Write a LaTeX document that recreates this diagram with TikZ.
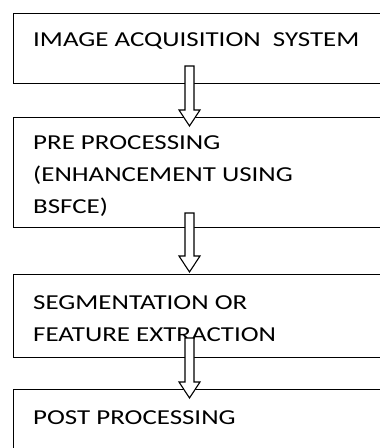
\documentclass[tikz,border=0pt]{standalone}
\usepackage{fontspec}
\setmainfont[FakeStretch=1.265]{Carlito}
\usetikzlibrary{calc}
\tikzset{
  stagebox/.style={draw=black, line width=1.1pt, fill=none, rectangle, inner sep=0pt, anchor=north west, minimum width=400pt},
  stagetext/.style={anchor=base west, inner sep=0pt, font=\fontsize{21.3}{25}\selectfont, text=black},
  fatarrow/.style={draw=black, line width=1.1pt, fill=white, line join=miter}
}
\newcommand{\downfat}[2]{%
  \draw[fatarrow] let \p1=(#1), \p2=(#2) in
    (\x1-4.5pt,\y1) -- (\x1-4.5pt,\y2+16pt) -- (\x1-10.5pt,\y2+16pt) -- (\x2,\y2)
    -- (\x1+10.5pt,\y2+16pt) -- (\x1+4.5pt,\y2+16pt) -- (\x1+4.5pt,\y1) -- cycle;}
\begin{document}
\begin{tikzpicture}[x=1pt,y=-1pt]
\useasboundingbox (0,0) rectangle (380,448);
\clip (0,0) rectangle (380,448);
% boxes
\node[stagebox, minimum height=70pt] (b1) at (13,13) {};
\node[stagebox, minimum height=110pt] (b2) at (13,117) {};
\node[stagebox, minimum height=83pt] (b3) at (13,274) {};
\node[stagebox, minimum height=90pt] (b4) at (13,389) {};
% texts
\node[stagetext] (t1) at (33,46.7) {IMAGE ACQUISITION\ \ SYSTEM};
\node[stagetext] (t2a) at (33,149.3) {PRE PROCESSING};
\node[stagetext] (t2b) at (33,181.7) {(ENHANCEMENT USING};
\node[stagetext] (t2c) at (33,213.5) {BSFCE)};
\node[stagetext] (t3a) at (33,309.5) {SEGMENTATION OR};
\node[stagetext] (t3b) at (33,341.5) {FEATURE EXTRACTION};
\node[stagetext] (t4) at (33,424) {POST PROCESSING};
% arrow ends
\coordinate (a1s) at (189.5,66);
\coordinate (a1e) at (189.5,126);
\coordinate (a2s) at (189.5,213);
\coordinate (a2e) at (189.5,272);
\coordinate (a3s) at (189.5,338);
\coordinate (a3e) at (189.5,398);
\downfat{a1s}{a1e}
\downfat{a2s}{a2e}
\downfat{a3s}{a3e}
\end{tikzpicture}
\end{document}
